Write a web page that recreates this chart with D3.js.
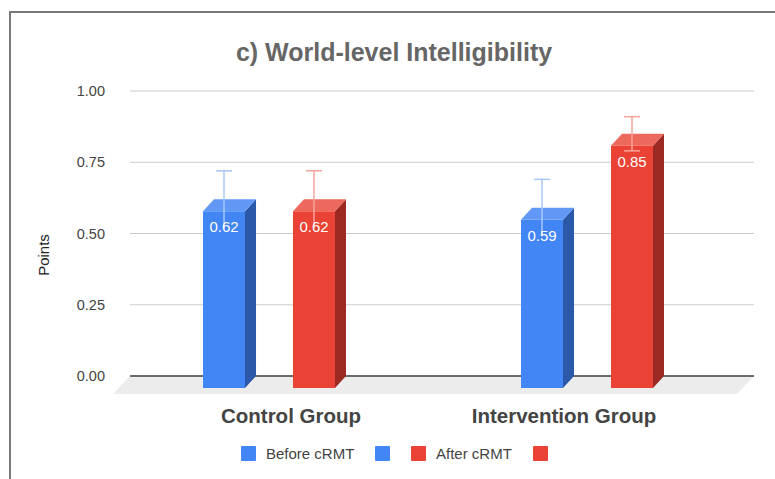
<!DOCTYPE html>
<html>
<head>
<meta charset="utf-8">
<script src="https://cdn.jsdelivr.net/npm/d3@7"></script>
<style>
  body { margin: 0; background: white; }
  text { font-family: 'Liberation Sans', Arial, sans-serif; }
</style>
</head>
<body>
<div id="chart"></div>
<script>
// data
const categories = ['Control Group', 'Intervention Group']
const series = ['Before cRMT', 'After cRMT']
const beforeValues = [0.62, 0.59]
const afterValues = [0.62, 0.85]
const beforeErrors = [0.10, 0.10]
const afterErrors = [0.10, 0.06]
const yTicks = [0, 0.25, 0.5, 0.75, 1]

const width = 775
const height = 479

// 3d offset of the bars (back face is up and right of the front face)
const depthX = 11
const depthY = 12
// floor depth
const floorX = 17
const floorY = 18

const colours = {
  'Before cRMT': { front: '#4285f4', side: '#2b58a8', top: '#6198f6', err: '#a8c7fa' },
  'After cRMT': { front: '#ea4335', side: '#9c2a22', top: '#ee695d', err: '#f5a49c' }
}

const svg = d3.select('#chart').append('svg')
  .attr('width', width)
  .attr('height', height)

// border
svg.append('path')
  .attr('d', `M10,${height} L10,12 L${width},12`)
  .attr('fill', 'none')
  .attr('stroke', '#7a7a7a')
  .attr('stroke-width', 2)

svg.append('text')
  .attr('x', 394)
  .attr('y', 61)
  .attr('text-anchor', 'middle')
  .style('font-size', '25px')
  .style('font-weight', 'bold')
  .style('fill', '#666')
  .text('c) World-level Intelligibility')

const plotLeft = 130
const plotRight = 754

const y = d3.scaleLinear().domain([0, 1]).range([376, 91])

// floor
svg.append('path')
  .attr('d', `M${plotLeft},${y(0)} L${plotRight},${y(0)} L${plotRight - floorX},${y(0) + floorY} L${plotLeft - floorX},${y(0) + floorY} Z`)
  .attr('fill', '#ececec')

// gridlines
svg.append('g')
  .selectAll('line')
  .data(yTicks.filter(d => d > 0))
  .join('line')
  .attr('x1', plotLeft)
  .attr('x2', plotRight)
  .attr('y1', d => y(d))
  .attr('y2', d => y(d))
  .attr('stroke', '#cccccc')
  .attr('stroke-width', 1)

svg.append('line')
  .attr('x1', plotLeft)
  .attr('x2', plotRight)
  .attr('y1', y(0))
  .attr('y2', y(0))
  .attr('stroke', '#6b6b6b')
  .attr('stroke-width', 2)

// y axis labels
const yAxis = svg.append('g')
  .attr('transform', `translate(105,0)`)
  .call(d3.axisLeft(y).tickValues(yTicks).tickFormat(d3.format('.2f')).tickSize(0).tickPadding(0))
yAxis.select('.domain').remove()
yAxis.selectAll('text')
  .style('font-size', '14.5px')
  .style('fill', '#444')
  .style('font-family', "'Liberation Sans', Arial, sans-serif")

svg.append('text')
  .attr('transform', 'translate(49,255) rotate(-90)')
  .attr('text-anchor', 'middle')
  .style('font-size', '15px')
  .style('fill', '#222')
  .text('Points')

// x scales (front face coordinates)
const x0 = d3.scalePoint().domain(categories).range([203, 521])
const x1 = d3.scaleBand().domain(series).range([0, 132]).paddingInner(0.533)
const xLabel = d3.scalePoint().domain(categories).range([291, 564])

const rows = []
categories.forEach((c, i) => {
  rows.push({ cat: c, s: 'Before cRMT', v: beforeValues[i], e: beforeErrors[i] })
  rows.push({ cat: c, s: 'After cRMT', v: afterValues[i], e: afterErrors[i] })
})

const bw = x1.bandwidth()
const gBars = svg.append('g')

rows.forEach(d => {
  const fx = x0(d.cat) + x1(d.s)
  const fTop = y(d.v) + depthY
  const fBottom = y(0) + depthY
  const col = colours[d.s]
  const g = gBars.append('g')

  // side face
  g.append('path')
    .attr('d', `M${fx + bw},${fTop} L${fx + bw + depthX},${fTop - depthY} L${fx + bw + depthX},${fBottom - depthY} L${fx + bw},${fBottom} Z`)
    .attr('fill', col.side)
  // top face
  g.append('path')
    .attr('d', `M${fx},${fTop} L${fx + depthX},${fTop - depthY} L${fx + bw + depthX},${fTop - depthY} L${fx + bw},${fTop} Z`)
    .attr('fill', col.top)
  // front face
  g.append('rect')
    .attr('x', fx)
    .attr('y', fTop)
    .attr('width', bw)
    .attr('height', fBottom - fTop)
    .attr('fill', col.front)

  // error bar
  const cx = fx + bw / 2
  const eTop = y(d.v + d.e)
  const eBot = y(d.v - d.e)
  g.append('line')
    .attr('x1', cx).attr('x2', cx)
    .attr('y1', eTop).attr('y2', eBot)
    .attr('stroke', col.err).attr('stroke-width', 1.5)
  // lower cap is hidden behind the value label when it falls on it
  const caps = eBot > fTop + 8 ? [eTop] : [eTop, eBot]
  caps.forEach(yy => {
    g.append('line')
      .attr('x1', cx - 8).attr('x2', cx + 8)
      .attr('y1', yy).attr('y2', yy)
      .attr('stroke', col.err).attr('stroke-width', 1.5)
  })

  g.append('text')
    .attr('x', cx)
    .attr('y', fTop + 21)
    .attr('text-anchor', 'middle')
    .style('font-size', '15px')
    .style('fill', 'white')
    .text(d3.format('.2f')(d.v))
})

// category labels
svg.append('g')
  .selectAll('text')
  .data(categories)
  .join('text')
  .attr('x', d => xLabel(d))
  .attr('y', 423)
  .attr('text-anchor', 'middle')
  .style('font-size', '20.5px')
  .style('font-weight', 'bold')
  .style('fill', '#444')
  .text(d => d)

// legend
const legendItems = [
  { x: 241, s: 'Before cRMT', label: 'Before cRMT' },
  { x: 375, s: 'Before cRMT', label: '' },
  { x: 411, s: 'After cRMT', label: 'After cRMT' },
  { x: 533, s: 'After cRMT', label: '' }
]
const gLegend = svg.append('g')
legendItems.forEach(d => {
  gLegend.append('rect')
    .attr('x', d.x)
    .attr('y', 446)
    .attr('width', 15)
    .attr('height', 15)
    .attr('rx', 1)
    .attr('fill', colours[d.s].front)
  if (d.label) {
    gLegend.append('text')
      .attr('x', d.x + 25)
      .attr('y', 459)
      .style('font-size', '15px')
      .style('fill', '#444')
      .text(d.label)
  }
})
</script>
</body>
</html>
